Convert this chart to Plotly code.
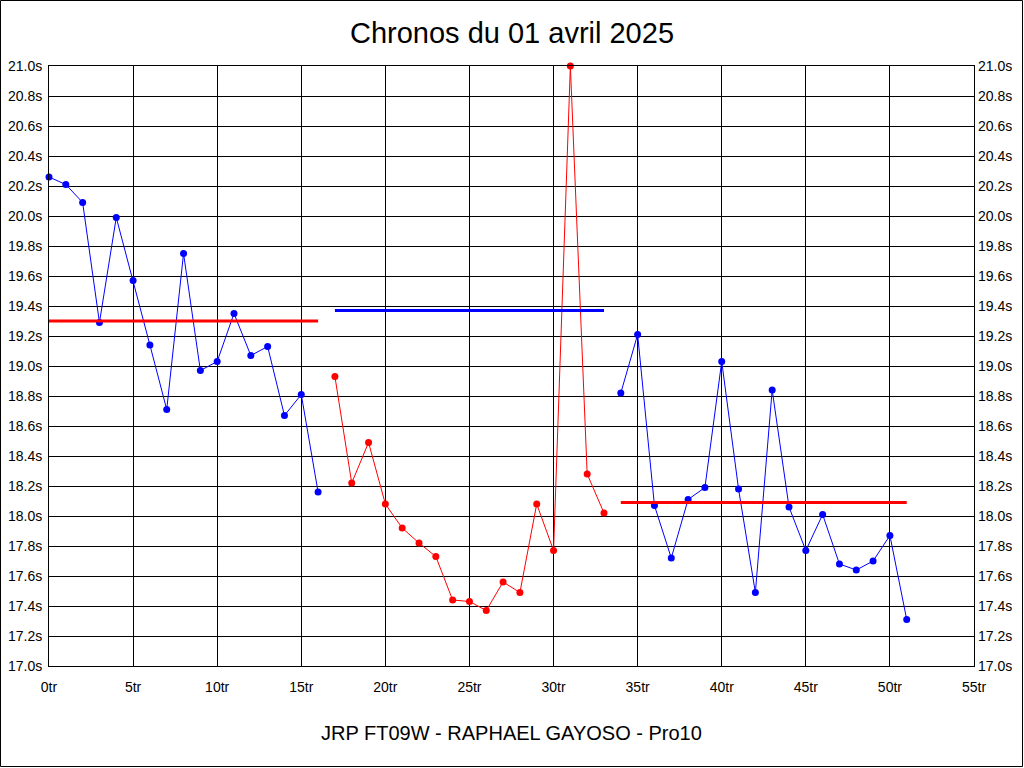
import plotly.graph_objects as go

# Lap indices and lap times (seconds)
laps_a = list(range(0, 17))
times_a = [20.26, 20.21, 20.09, 19.29, 19.99, 19.57, 19.14, 18.71, 19.75, 18.97,
           19.03, 19.35, 19.07, 19.13, 18.67, 18.81, 18.16]

laps_b = list(range(17, 34))
times_b = [18.93, 18.22, 18.49, 18.08, 17.92, 17.82, 17.73, 17.44, 17.43, 17.37,
           17.56, 17.49, 18.08, 17.77, 21.00, 18.28, 18.02]

laps_c = list(range(34, 52))
times_c = [18.82, 19.21, 18.07, 17.72, 18.11, 18.19, 19.03, 18.18, 17.49, 18.84,
           18.06, 17.77, 18.01, 17.68, 17.64, 17.70, 17.87, 17.31]

# Average segments: (start lap, end lap, value, colour)
avg_starts = [0, 17, 34]
avg_ends = [16, 33, 51]
avg_values = [19.30, 19.37, 18.09]
avg_colors = ["#FF0000", "#0000FF", "#FF0000"]

x_ticks = list(range(0, 56, 5))
y_ticks = [round(17.0 + 0.2 * i, 1) for i in range(21)]

title_text = "Chronos du 01 avril 2025"
subtitle_text = "JRP FT09W - RAPHAEL GAYOSO - Pro10"

W, H = 1024, 768
L, R, T, B = 49, 50, 66, 102

fig = go.Figure()

for xs, ys, col in [(laps_a, times_a, "#0000FF"), (laps_b, times_b, "#FF0000"), (laps_c, times_c, "#0000FF")]:
    fig.add_trace(go.Scatter(
        x=xs, y=ys, mode="lines+markers",
        line=dict(color=col, width=1),
        marker=dict(color=col, size=7),
        cliponaxis=False, showlegend=False,
    ))

for s, e, v, c in zip(avg_starts, avg_ends, avg_values, avg_colors):
    fig.add_trace(go.Scatter(
        x=[s, e], y=[v, v], mode="lines",
        line=dict(color=c, width=3), showlegend=False,
    ))

# invisible trace on the mirrored right axis
fig.add_trace(go.Scatter(x=[0], y=[17.0], yaxis="y2", mode="markers",
                         marker=dict(opacity=0), showlegend=False, hoverinfo="skip"))

font = "Arial, Liberation Sans, sans-serif"
pw = W - L - R
ph = H - T - B

fig.update_layout(
    template="none",
    width=W, height=H,
    margin=dict(l=L, r=R, t=T, b=B, pad=0, autoexpand=False),
    paper_bgcolor="white", plot_bgcolor="white",
    font=dict(family=font, color="black", size=14),
    title=dict(text=title_text, x=0.5, xanchor="center", y=1 - 33 / H,
               yanchor="middle", yref="container", xref="container",
               font=dict(size=29, family=font, color="black")),
    xaxis=dict(range=[0, 55], tickvals=x_ticks, ticktext=[f"{v}tr" for v in x_ticks],
               automargin=False,
               showgrid=True, gridcolor="black", gridwidth=1, zeroline=False,
               showline=True, linecolor="black", linewidth=1, mirror=True,
               ticks="", ticklabelstandoff=8, tickfont=dict(size=14, color="black")),
    yaxis=dict(range=[17.0, 21.0], tickvals=y_ticks, ticktext=[f"{v:.1f}s" for v in y_ticks],
               automargin=False,
               showgrid=True, gridcolor="black", gridwidth=1, zeroline=False,
               showline=True, linecolor="black", linewidth=1, mirror=True,
               ticks="", ticklabelstandoff=3, tickfont=dict(size=14, color="black")),
    yaxis2=dict(range=[17.0, 21.0], tickvals=y_ticks, ticktext=[f"{v:.1f}s" for v in y_ticks],
                automargin=False,
                overlaying="y", side="right", showgrid=False, zeroline=False,
                showline=False, ticks="", ticklabelstandoff=3,
                tickfont=dict(size=14, color="black")),
    annotations=[dict(text=subtitle_text, xref="paper", yref="paper", x=0.5,
                      y=-(733 - T - ph) / ph, xanchor="center", yanchor="middle",
                      showarrow=False, font=dict(size=20, family=font, color="black"))],
    shapes=[dict(type="rect", xref="paper", yref="paper",
                 x0=(0.5 - L) / pw, x1=(W - 1.5 - L) / pw,
                 y0=-(H - 1.5 - T - ph) / ph, y1=1 + (T - 0.5) / ph,
                 line=dict(color="black", width=1), fillcolor="rgba(0,0,0,0)", layer="below")],
)

fig.write_html(
    "out.html",
    config={"displayModeBar": False},
    post_script="document.body.style.margin='0';document.body.style.overflow='hidden';",
)
